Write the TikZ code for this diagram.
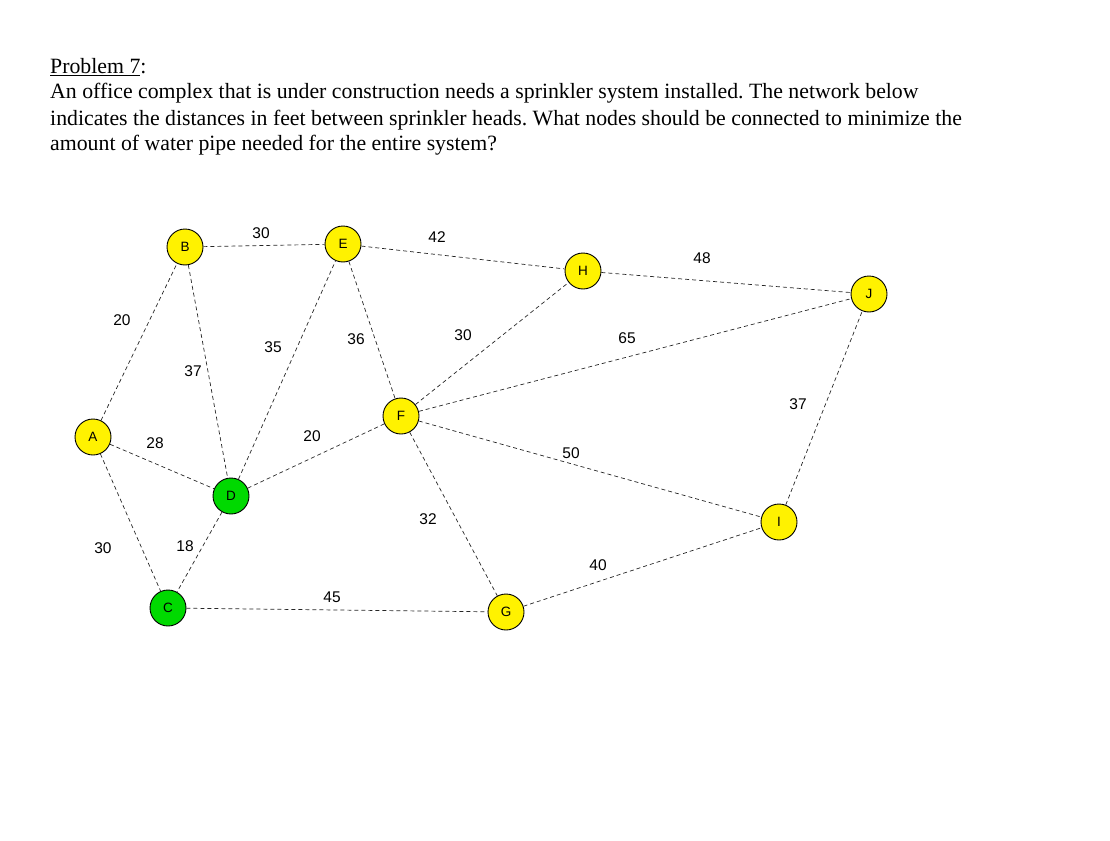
\documentclass[tikz,border=0pt]{standalone}
\usepackage{fontspec}
\setmainfont{Liberation Serif}
\newfontfamily\arial{Liberation Sans}
\begin{document}
\frenchspacing
\begin{tikzpicture}[x=1pt,y=-1pt,
  vtx/.style={circle,draw=black,line width=0.9pt,minimum size=36pt,inner sep=0pt,font=\arial\fontsize{13.5}{15}\selectfont},
  yel/.style={vtx,fill=yellow},
  grn/.style={vtx,fill=green!85!black},
  edge/.style={line width=0.7pt,dash pattern=on 4pt off 3pt,draw=black!85},
  lab/.style={font=\arial\fontsize{15.5}{17}\selectfont,inner sep=1pt},
  txt/.style={anchor=base west,inner sep=0pt,font=\fontsize{21.8}{24}\selectfont}]
\useasboundingbox (0,0) rectangle (1110,840);
\node[txt] (t0) at (50,74) {\underline{Problem 7}:};
\node[txt] (t1) at (50,99) {An office complex that is under construction needs a sprinkler system installed. The network below};
\node[txt] (t2) at (50,125) {indicates the distances in feet between sprinkler heads. What nodes should be connected to minimize the};
\node[txt] (t3) at (50,150) {amount of water pipe needed for the entire system?};
\node[yel] (A) at (93,437) {A};
\node[yel] (B) at (185,247) {B};
\node[yel] (E) at (343,244) {E};
\node[yel] (H) at (583,271) {H};
\node[yel] (J) at (869,294) {J};
\node[yel] (F) at (401,416) {F};
\node[grn] (D) at (231,496) {D};
\node[grn] (C) at (168,608) {C};
\node[yel] (G) at (506,612) {G};
\node[yel] (I) at (779,522) {I};
\foreach \a/\b in {A/B,A/D,A/C,B/E,B/D,D/E,E/F,E/H,F/H,D/F,D/C,C/G,F/G,F/J,F/I,G/I,H/J,I/J}
  \draw[edge] (\a) -- (\b);
\node[lab] (l1) at (122,320) {20};
\node[lab] (l2) at (155,443) {28};
\node[lab] (l3) at (103,548) {30};
\node[lab] (l4) at (261,233) {30};
\node[lab] (l5) at (193,371) {37};
\node[lab] (l6) at (273,347) {35};
\node[lab] (l7) at (356,339) {36};
\node[lab] (l8) at (437,237) {42};
\node[lab] (l9) at (463,335) {30};
\node[lab] (l10) at (312,436) {20};
\node[lab] (l11) at (185,546) {18};
\node[lab] (l12) at (332,597) {45};
\node[lab] (l13) at (428,519) {32};
\node[lab] (l14) at (627,338) {65};
\node[lab] (l15) at (571,453) {50};
\node[lab] (l16) at (598,565) {40};
\node[lab] (l17) at (702,258) {48};
\node[lab] (l18) at (798,404) {37};
\end{tikzpicture}
\end{document}
